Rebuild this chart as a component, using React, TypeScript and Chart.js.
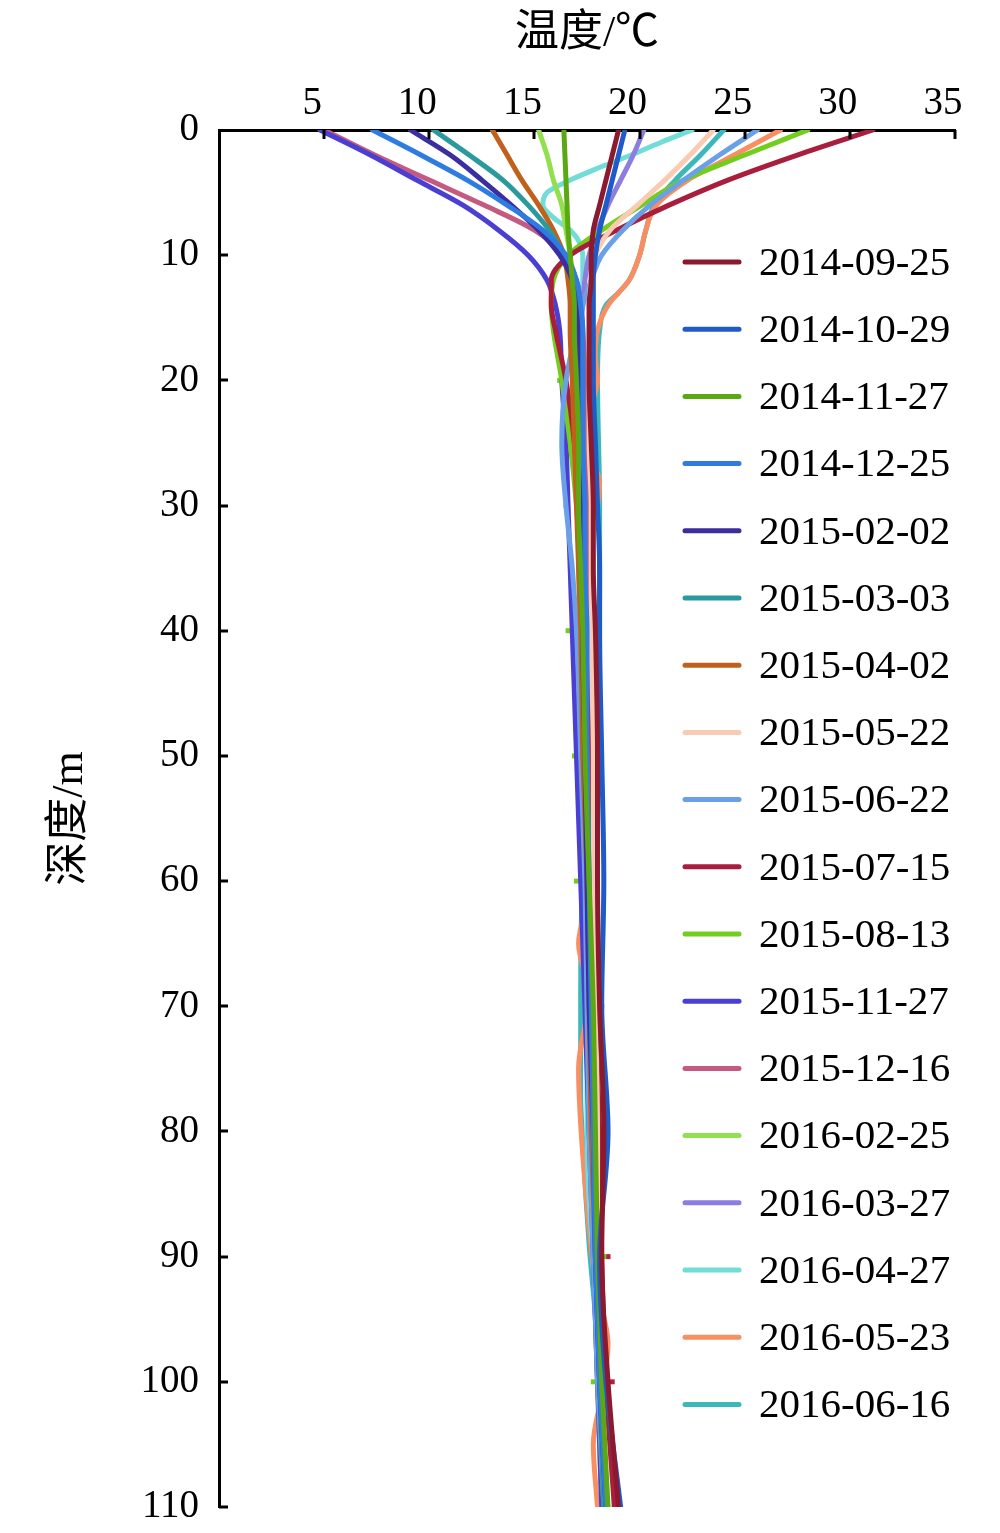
import React, { useEffect, useRef } from 'react';
import { Chart, registerables } from 'chart.js';

Chart.register(...registerables);

const SERIES_LABELS = [
  '2014-09-25', '2014-10-29', '2014-11-27', '2014-12-25', '2015-02-02', '2015-03-03',
  '2015-04-02', '2015-05-22', '2015-06-22', '2015-07-15', '2015-08-13', '2015-11-27',
  '2015-12-16', '2016-02-25', '2016-03-27', '2016-04-27', '2016-05-23', '2016-06-16',
];

const SERIES_COLORS = [
  '#8B1A2E', '#1F5BC6', '#5AA812', '#2E7CE2', '#3A2EA0', '#2A9A9E',
  '#C0601A', '#F9CBB2', '#6AA0E8', '#A81E3C', '#74CC1E', '#4B3ED2',
  '#C45A82', '#92E050', '#8C7EE0', '#72DCD6', '#F98E62', '#3DB8BA',
];

const X_TICKS = [5, 10, 15, 20, 25, 30, 35];
const Y_TICKS = [10, 20, 30, 40, 50, 60, 70, 80, 90, 100, 110];

// depth (m)
const DEPTH_STD = [0, 2, 4, 6, 8, 10, 12, 14, 16, 20, 25, 30, 35, 40, 50, 60, 70, 80, 90, 100, 110];

// temperature (°C) at DEPTH_STD
const T_20140925 = [19.0, 18.7, 18.4, 18.1, 17.8, 17.7, 17.7, 17.6, 17.6, 17.6, 17.7, 17.8, 17.8, 17.9, 18.0, 18.0, 18.1, 18.3, 18.2, 18.5, 19.0];
const T_20141029 = [19.3, 19.0, 18.7, 18.4, 18.1, 17.9, 17.8, 17.8, 17.8, 17.8, 17.9, 18.0, 18.1, 18.1, 18.2, 18.3, 18.2, 18.5, 18.1, 18.4, 19.1];
const T_20141127 = [16.4, 16.45, 16.5, 16.55, 16.6, 16.7, 16.8, 16.9, 16.9, 17.0, 17.1, 17.1, 17.2, 17.3, 17.4, 17.6, 17.8, 17.9, 18.0, 18.2, 18.5];
const T_20141225 = [7.3, 9.6, 11.8, 13.7, 15.4, 16.5, 17.0, 17.2, 17.3, 17.3, 17.3, 17.4, 17.4, 17.5, 17.5, 17.6, 17.7, 17.8, 17.9, 18.1, 18.4];
const T_20150202 = [9.1, 11.0, 12.5, 13.9, 15.2, 16.2, 16.8, 17.0, 17.1, 17.1, 17.2, 17.2, 17.3, 17.3, 17.4, 17.5, 17.6, 17.8, 17.9, 18.1, 18.4];
const T_20150303 = [10.2, 11.9, 13.5, 14.7, 15.7, 16.4, 16.9, 17.1, 17.2, 17.2, 17.3, 17.3, 17.4, 17.4, 17.5, 17.6, 17.7, 17.8, 17.9, 18.1, 18.3];
const T_20150402 = [13.0, 13.7, 14.4, 15.2, 15.9, 16.4, 16.6, 16.7, 16.7, 16.8, 16.9, 17.0, 17.1, 17.2, 17.3, 17.5, 17.6, 17.7, 17.9, 18.1, 18.3];
const T_20150522 = [23.5, 22.4, 21.2, 19.9, 18.6, 17.9, 17.7, 17.6, 17.6, 17.6, 17.6, 17.7, 17.7, 17.7, 17.8, 17.8, 17.9, 18.0, 18.0, 18.2, 18.4];
const T_20150622 = [25.6, 23.8, 22.1, 20.5, 19.2, 18.2, 17.7, 17.3, 17.0, 16.5, 16.3, 16.5, 16.8, 17.0, 17.2, 17.4, 17.5, 17.6, 17.8, 18.0, 18.3];
const T_20150715 = [31.1, 27.5, 24.2, 21.4, 18.9, 16.7, 15.8, 15.8, 16.0, 16.5, 16.9, 17.1, 17.3, 17.5, 17.7, 17.8, 17.9, 18.1, 18.2, 18.4, 18.8];
const T_20150813 = [28.0, 25.0, 22.1, 20.1, 18.2, 16.6, 15.9, 15.8, 15.9, 16.3, 16.7, 17.0, 17.2, 17.3, 17.5, 17.6, 17.8, 17.9, 18.1, 18.2, 18.4];
const T_20151127 = [4.8, 7.2, 9.4, 11.6, 13.3, 14.7, 15.6, 16.0, 16.2, 16.3, 16.5, 16.6, 16.7, 16.8, 17.0, 17.2, 17.4, 17.6, 17.8, 18.0, 18.2];
const T_20151216 = [5.0, 7.4, 10.0, 12.6, 15.0, 16.4, 17.0, 17.2, 17.3, 17.4, 17.4, 17.5, 17.5, 17.6, 17.7, 17.8, 17.8, 17.9, 18.0, 18.1, 18.3];
const T_20160225 = [15.2, 15.6, 15.9, 16.3, 16.5, 16.7, 16.8, 16.9, 16.9, 17.0, 17.0, 17.1, 17.1, 17.2, 17.3, 17.4, 17.6, 17.7, 17.9, 18.0, 18.2];
const T_20160327 = [20.2, 19.7, 19.1, 18.5, 18.0, 17.6, 17.4, 17.3, 17.2, 17.2, 17.2, 17.3, 17.3, 17.3, 17.4, 17.5, 17.6, 17.7, 17.8, 18.0, 18.3];

// series with their own depth samples
const D_20160427 = [0, 1, 2, 3, 4, 5, 6, 7, 8, 9, 10, 12, 14, 16, 20, 25, 30, 35, 40, 50, 60, 70, 80, 90, 95, 100, 110];
const T_20160427 = [22.5, 21.0, 19.6, 18.1, 16.7, 15.6, 15.4, 15.9, 16.7, 17.15, 17.3, 17.3, 17.2, 17.1, 17.1, 17.1, 17.2, 17.2, 17.3, 17.4, 17.4, 17.5, 17.5, 17.8, 18.2, 18.2, 18.3];

const D_20160523 = [0, 2, 4, 6, 8, 10, 12, 14, 16, 18, 20, 22, 24, 26, 28, 30, 33, 36, 40, 45, 50, 56, 60, 65, 69, 75, 84, 92, 97, 101, 105, 110];
const T_20160523 = [26.7, 24.5, 22.3, 20.8, 20.3, 20.0, 19.5, 18.5, 18.0, 17.9, 18.0, 17.7, 17.3, 17.5, 18.1, 18.0, 17.4, 17.3, 17.3, 17.5, 17.7, 17.3, 17.7, 17.1, 17.6, 17.1, 17.4, 17.9, 18.5, 18.2, 17.8, 18.0];

const D_20160616 = [0, 2, 4, 6, 8, 10, 12, 13, 14, 16, 20, 30, 37, 44, 50, 59, 69, 77, 81, 89, 97, 103, 110];
const T_20160616 = [24.0, 22.9, 21.7, 20.7, 20.3, 20.0, 19.5, 19.0, 18.4, 18.1, 18.0, 18.1, 18.1, 17.9, 17.6, 17.3, 17.2, 17.2, 17.3, 17.6, 18.0, 18.1, 18.3];

// small marker dashes seen in the figure
const MARK_G_DEPTH = [20, 30, 40, 50, 60, 60, 70, 80, 90, 100, 100, 110, 110];
const MARK_G_TEMP = [16.2, 16.5, 16.6, 16.9, 17.0, 17.8, 18.0, 18.0, 18.3, 17.8, 18.4, 18.0, 18.8];
const MARK_R_DEPTH = [40, 50, 60, 70, 80, 90, 100, 110];
const MARK_R_TEMP = [17.7, 17.9, 18.0, 18.2, 18.4, 18.5, 18.7, 19.0];

const SERIES_DEPTHS = [
  DEPTH_STD, DEPTH_STD, DEPTH_STD, DEPTH_STD, DEPTH_STD, DEPTH_STD,
  DEPTH_STD, DEPTH_STD, DEPTH_STD, DEPTH_STD, DEPTH_STD, DEPTH_STD,
  DEPTH_STD, DEPTH_STD, DEPTH_STD, D_20160427, D_20160523, D_20160616,
];
const SERIES_TEMPS = [
  T_20140925, T_20141029, T_20141127, T_20141225, T_20150202, T_20150303,
  T_20150402, T_20150522, T_20150622, T_20150715, T_20150813, T_20151127,
  T_20151216, T_20160225, T_20160327, T_20160427, T_20160523, T_20160616,
];

const SERIF = '"Liberation Serif", "Times New Roman", "Noto Sans CJK SC", serif';

const inwardTicks = {
  id: 'inwardTicks',
  afterDraw(chart: any) {
    const { ctx, chartArea, scales } = chart;
    const xs = scales.x;
    const ys = scales.y;
    ctx.save();
    ctx.strokeStyle = '#000';
    ctx.lineWidth = 3;
    ctx.beginPath();
    X_TICKS.forEach((v) => {
      const px = Math.round(xs.getPixelForValue(v));
      ctx.moveTo(px, chartArea.top);
      ctx.lineTo(px, chartArea.top + 9);
    });
    Y_TICKS.forEach((v) => {
      const py = Math.round(ys.getPixelForValue(v));
      ctx.moveTo(chartArea.left, py);
      ctx.lineTo(chartArea.left + 9, py);
    });
    ctx.stroke();
    ctx.restore();
  },
};

const innerLegend = {
  id: 'innerLegend',
  afterDraw(chart: any) {
    const { ctx } = chart;
    ctx.save();
    chart.data.datasets.slice(0, SERIES_LABELS.length).forEach((ds: any, i: number) => {
      const y = 262 + i * 67.2;
      ctx.strokeStyle = ds.borderColor;
      ctx.lineWidth = 5;
      ctx.lineCap = 'round';
      ctx.beginPath();
      ctx.moveTo(685, y);
      ctx.lineTo(739, y);
      ctx.stroke();
      ctx.fillStyle = '#000';
      ctx.font = `41px ${SERIF}`;
      ctx.textAlign = 'left';
      ctx.textBaseline = 'middle';
      ctx.fillText(ds.label, 759, y + 2);
    });
    ctx.restore();
  },
};

export default function App() {
  const ref = useRef<HTMLCanvasElement | null>(null);

  useEffect(() => {
    if (!ref.current) return;
    const datasets: any[] = SERIES_LABELS.map((label, i) => ({
      label,
      data: SERIES_DEPTHS[i].map((d, k) => ({ x: SERIES_TEMPS[i][k], y: d })),
      borderColor: SERIES_COLORS[i],
      backgroundColor: SERIES_COLORS[i],
      borderWidth: 5,
      pointRadius: 0,
      fill: false,
      cubicInterpolationMode: 'monotone' as const,
    }));
    datasets.push({
      label: 'mark-g',
      data: MARK_G_DEPTH.map((d, k) => ({ x: MARK_G_TEMP[k], y: d })),
      showLine: false,
      pointStyle: 'rect',
      pointRadius: 3.5,
      pointBorderWidth: 0,
      borderColor: '#74CC1E',
      backgroundColor: '#74CC1E',
    });
    datasets.push({
      label: 'mark-r',
      data: MARK_R_DEPTH.map((d, k) => ({ x: MARK_R_TEMP[k], y: d })),
      showLine: false,
      pointStyle: 'rect',
      pointRadius: 3.5,
      pointBorderWidth: 0,
      borderColor: '#B0203A',
      backgroundColor: '#B0203A',
    });

    const chart = new Chart(ref.current, {
      type: 'line',
      data: { datasets },
      options: {
        animation: false,
        responsive: false,
        indexAxis: 'y',
        layout: { padding: { left: 0, top: 0, right: 45, bottom: 26 } },
        plugins: {
          legend: { display: false },
          tooltip: { enabled: false },
        },
        elements: {
          line: { borderCapStyle: 'round', borderJoinStyle: 'round' },
        },
        scales: {
          x: {
            type: 'linear',
            position: 'top',
            min: 0,
            max: 35,
            afterFit: (s: any) => {
              s.height = 130;
              s.paddingLeft = 0;
              s.paddingRight = 0;
            },
            grid: { display: false, drawTicks: false },
            border: { display: true, color: '#000', width: 3 },
            ticks: {
              stepSize: 5,
              color: '#000',
              padding: 3,
              labelOffset: -12,
              font: { family: SERIF, size: 39 },
              callback: (v: any) => (v === 0 ? '' : String(v)),
            },
            title: {
              display: true,
              text: '温度/℃',
              color: '#000',
              font: { family: SERIF, size: 44 },
              padding: { top: 8, bottom: 0 },
            },
          },
          y: {
            type: 'linear',
            position: 'left',
            reverse: true,
            min: 0,
            max: 110,
            afterFit: (s: any) => {
              s.width = 219;
              s.paddingTop = 0;
              s.paddingBottom = 0;
            },
            grid: { display: false, drawTicks: false },
            border: { display: true, color: '#000', width: 3 },
            ticks: {
              stepSize: 10,
              color: '#000',
              padding: 20,
              font: { family: SERIF, size: 39 },
            },
            title: {
              display: true,
              text: '深度/m',
              color: '#000',
              font: { family: SERIF, size: 44 },
              padding: { top: 44, bottom: 0 },
            },
          },
        },
      } as any,
      plugins: [inwardTicks, innerLegend],
    });
    return () => chart.destroy();
  }, []);

  return (
    <div style={{ position: 'absolute', left: 0, top: 0, width: 1000, height: 1533, background: '#fff' }}>
      <canvas ref={ref} width={1000} height={1533} style={{ width: 1000, height: 1533 }} />
    </div>
  );
}
